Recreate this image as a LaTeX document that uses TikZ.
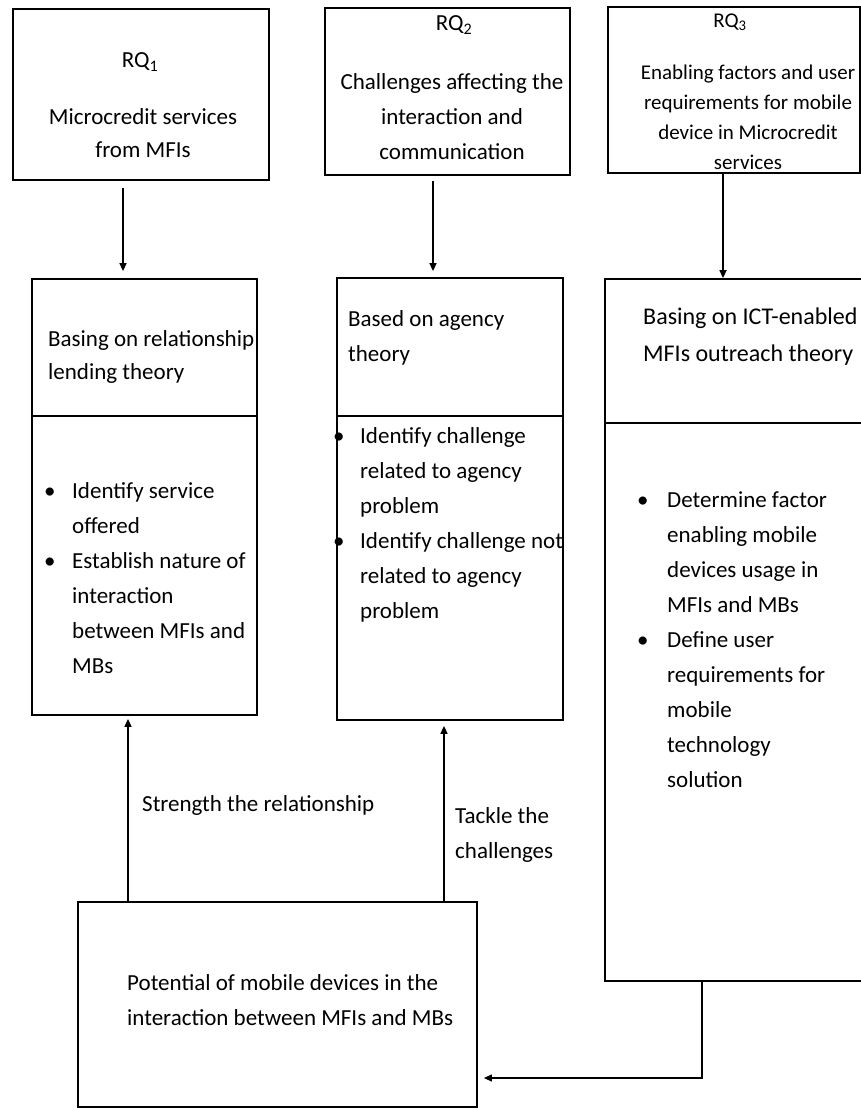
\documentclass[tikz,border=0pt]{standalone}
\usepackage{fontspec}
\setmainfont{Carlito}
\usetikzlibrary{arrows.meta}

\begin{document}
\begin{tikzpicture}[x=1pt,y=-1pt,
        box/.style={draw,line width=1.8pt,inner sep=0pt},
        txt/.style={font=\fontsize{23}{33}\selectfont,align=center,inner sep=0pt},
        lst/.style={font=\fontsize{23}{35}\selectfont,inner sep=0pt,anchor=west},
        arr/.style={line width=1.6pt,-{Triangle[length=8pt,width=7pt]}}]

    \useasboundingbox (0,0) rectangle (861,1110);

    % Research questions
    \node[box,minimum width=256pt,minimum height=171pt] (q1) at (141,94.5) {};
    \node[box,minimum width=245pt,minimum height=167pt] (q2) at (447.5,91.5) {};
    \node[box,minimum width=252pt,minimum height=166pt] (q3) at (734,90) {};

    \node[txt] (q1h) at (140,62) {RQ\textsubscript{1}};
    \node[txt] (q1t) at (143,133.5) {Microcredit services\\from MFIs};
    \node[txt] (q2h) at (454,25) {RQ\textsubscript{2}};
    \node[txt,font=\fontsize{23}{35}\selectfont] (q2t) at (452,117)
        {Challenges affecting the\\interaction and\\communication};
    \node[txt,font=\fontsize{21}{30}\selectfont] (q3h) at (730,22) {RQ\textsubscript{3}};
    \node[txt,font=\fontsize{21}{30}\selectfont] (q3t) at (748,117)
        {Enabling factors and user\\requirements for mobile\\device in Microcredit\\services};

    % Theories
    \node[box,minimum width=225pt,minimum height=137pt] (t1) at (144.5,347.5) {};
    \node[box,minimum width=225pt,minimum height=299pt] (l1) at (144.5,565.5) {};
    \node[box,minimum width=226pt,minimum height=138pt] (t2) at (450,347) {};
    \node[box,minimum width=226pt,minimum height=304pt] (l2) at (450,568) {};
    \node[box,minimum width=261pt,minimum height=144pt] (t3) at (735.5,351) {};
    \node[box,minimum width=261pt,minimum height=558pt] (l3) at (735.5,702) {};

    \node[lst,align=left,font=\fontsize{23}{33}\selectfont] (t1t) at (48,356.5)
        {Basing on relationship\\lending theory};
    \node[lst,align=left] (t2t) at (348,337.5) {Based on agency\\theory};
    \node[lst,align=left,font=\fontsize{24}{37}\selectfont] (t3t) at (643,336.5)
        {Basing on ICT-enabled\\MFIs outreach theory};

    % Tasks
    \node[lst] (l1t) at (44,579) {\begin{tabular}{@{}p{28pt}@{}l@{}}
        \textbullet & Identify service\\ & offered\\
        \textbullet & Establish nature of\\ & interaction\\
        & between MFIs and\\ & MBs\end{tabular}};
    \node[lst] (l2t) at (333,523.5) {\begin{tabular}{@{}p{27pt}@{}l@{}}
        \textbullet & Identify challenge\\ & related to agency\\ & problem\\
        \textbullet & Identify challenge not\\ & related to agency\\ & problem\end{tabular}};
    \node[lst] (l3t) at (637,640) {\begin{tabular}{@{}p{30pt}@{}l@{}}
        \textbullet & Determine factor\\ & enabling mobile\\
        & devices usage in\\ & MFIs and MBs\\
        \textbullet & Define user\\ & requirements for\\ & mobile\\
        & technology\\ & solution\end{tabular}};

    % Mobile devices
    \node[box,minimum width=399pt,minimum height=205pt] (pot) at (277.5,1004.5) {};
    \node[lst,align=left] (pott) at (127,1000.5)
        {Potential of mobile devices in the\\interaction between MFIs and MBs};

    \node[lst] (s1) at (142,805) {Strength the relationship};
    \node[lst,align=left] (s2) at (455,835) {Tackle the\\challenges};

    % Edges
    \coordinate (c1) at (123,0);
    \coordinate (c2) at (433,0);
    \coordinate (c3) at (723,0);
    \coordinate (c4) at (128,0);
    \coordinate (c5) at (444,0);
    \coordinate (fb) at (702,1078);
    \draw[arr,shorten <=7pt,shorten >=7pt] (q1.south -| c1) -- (t1.north -| c1);
    \draw[arr,shorten <=5pt,shorten >=6pt] (q2.south -| c2) -- (t2.north -| c2);
    \draw[arr] (q3.south -| c3) -- (t3.north -| c3);
    \draw[arr,shorten >=3pt] (pot.north -| c4) -- (l1.south -| c4);
    \draw[arr,shorten >=5pt] (pot.north -| c5) -- (l2.south -| c5);
    \draw[arr,line width=1.2pt,shorten >=6pt] (l3.south -| fb) -- (fb) -- (pot.east |- fb);
\end{tikzpicture}
\end{document}
